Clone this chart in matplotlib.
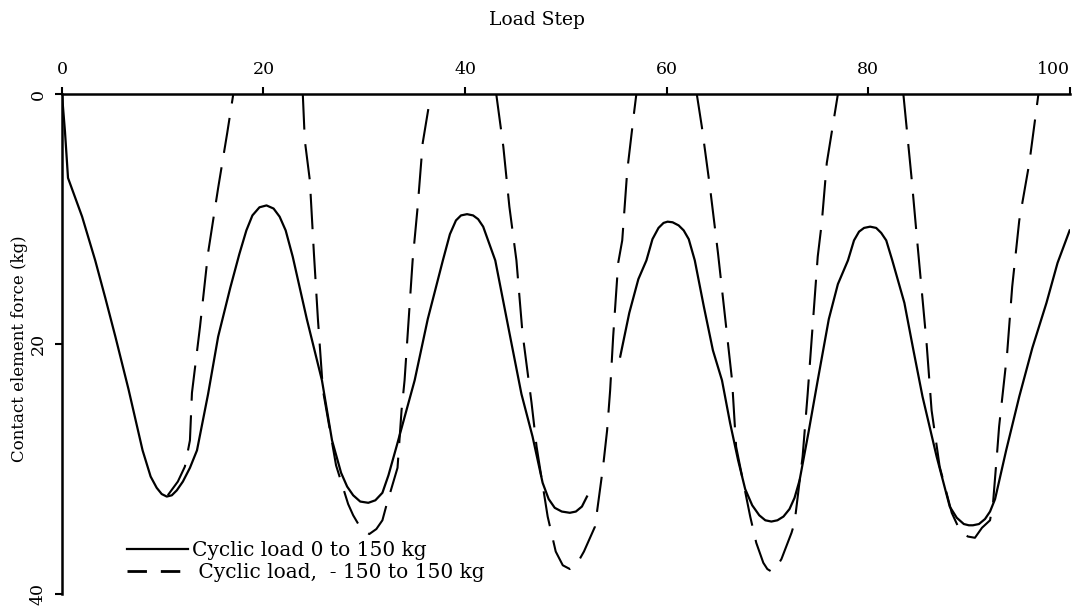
import matplotlib.pyplot as plt
from matplotlib.lines import Line2D

# solid curve: cyclic load 0 to 150 kg (two pieces, gap near step 53-55)
solid_x1 = [0, 0.3, 0.6, 2.0, 3.3, 4.3, 5.3, 6.6, 8.0, 8.8, 9.4, 9.9, 10.4, 10.9, 11.4, 12.0,
            12.7, 13.4, 14.5, 15.5, 16.7, 17.6, 18.3, 18.9, 19.6, 20.3, 21.0, 21.6, 22.2, 22.9,
            24.3, 25.8, 26.8, 27.7, 28.3, 28.9, 29.6, 30.4, 31.1, 31.8, 32.4, 33.2, 35.0, 36.3,
            37.8, 38.5, 39.1, 39.6, 40.2, 40.8, 41.3, 41.8, 43.0, 44.6, 45.6, 46.7, 47.7, 48.3,
            48.9, 49.6, 50.4, 51.0, 51.6, 52.1]
solid_y1 = [0, 3.0, 6.7, 9.8, 13.3, 16.3, 19.4, 23.6, 28.5, 30.6, 31.5, 32.0, 32.2, 32.1, 31.7, 31.0,
            29.9, 28.5, 24.0, 19.4, 15.5, 12.8, 10.9, 9.7, 9.05, 8.9, 9.15, 9.8, 10.9, 13.0,
            18.0, 22.9, 27.7, 30.3, 31.4, 32.1, 32.6, 32.7, 32.5, 31.9, 30.5, 28.2, 22.9, 18.0,
            13.3, 11.2, 10.1, 9.7, 9.6, 9.7, 10.0, 10.6, 13.3, 19.9, 24.0, 27.4, 31.1, 32.4,
            33.1, 33.4, 33.5, 33.4, 33.0, 32.2]
solid_x2 = [55.4, 56.3, 57.2, 58.0, 58.6, 59.2, 59.7, 60.1, 60.6, 61.2, 61.7, 62.2, 62.8, 63.7,
            64.6, 65.5, 66.3, 67.1, 67.8, 68.5, 69.2, 69.8, 70.4, 71.0, 71.6, 72.2, 72.7, 73.2,
            74.1, 75.0, 76.1, 77.0, 78.0, 78.6, 79.1, 79.6, 80.2, 80.8, 81.3, 81.8, 82.4, 83.6,
            84.5, 85.4, 86.8, 88.1, 88.8, 89.5, 90.0, 90.4, 91.0, 91.6, 92.1, 92.6, 93.7, 95.0,
            96.3, 97.7, 98.8, 100]
solid_y2 = [21.0, 17.5, 14.8, 13.3, 11.6, 10.7, 10.3, 10.2, 10.25, 10.5, 10.9, 11.6, 13.3, 17.0,
            20.5, 22.9, 26.3, 29.3, 31.6, 32.9, 33.7, 34.1, 34.2, 34.1, 33.8, 33.2, 32.3, 30.9,
            27.0, 22.9, 18.0, 15.2, 13.3, 11.7, 11.0, 10.7, 10.6, 10.7, 11.1, 11.7, 13.3, 16.7,
            20.5, 24.2, 29.0, 33.0, 33.9, 34.4, 34.5, 34.5, 34.4, 34.0, 33.4, 32.4, 28.5, 24.2,
            20.3, 16.7, 13.5, 10.9]

# dashed curve: cyclic load -150 to 150 kg, one piece per loading cycle
dash_x = [
    [10.5, 11.5, 12.2, 12.7, 12.9, 13.7, 14.5, 15.5, 16.4, 17.0],
    [23.9, 24.1, 24.6, 25.0, 25.4, 25.9, 27.2, 28.4, 28.9, 29.7, 30.5, 31.2, 31.8, 32.2, 33.3,
     33.7, 34.0, 34.8, 35.3, 35.8, 36.6],
    [43.1, 43.8, 44.4, 45.1, 45.7, 46.6, 47.1, 48.2, 49.0, 49.7, 50.4, 51.1, 51.8, 52.9, 53.7,
     54.1, 54.4, 54.7, 55.2, 55.6, 56.1, 56.8, 57.0],
    [63.0, 63.5, 64.3, 65.1, 65.8, 66.5, 66.9, 68.3, 68.9, 69.6, 70.0, 70.4, 70.8, 71.4, 72.4,
     72.7, 73.5, 74.0, 75.0, 75.4, 75.9, 76.5, 77.0],
    [83.5, 84.3, 84.9, 85.8, 86.3, 87.1, 88.3, 89.1, 89.9, 90.6, 91.3, 92.1, 92.4, 92.8, 93.0,
     93.8, 94.3, 95.0, 96.0, 96.9],
]
dash_y = [
    [32.1, 31.0, 29.8, 27.7, 23.9, 18.6, 12.7, 7.5, 3.1, 0],
    [0, 3.7, 6.9, 12.7, 18.0, 23.7, 29.7, 32.8, 33.7, 34.8, 35.2, 34.8, 34.1, 32.9, 29.9,
     25.3, 22.9, 13.3, 9.0, 3.9, 0],
    [0, 4.2, 9.0, 13.3, 19.1, 24.7, 28.2, 33.8, 36.6, 37.7, 38.0, 37.6, 36.6, 34.6, 29.8,
     26.9, 23.7, 19.4, 13.5, 11.7, 6.1, 1.3, 0],
    [0, 2.6, 7.4, 12.7, 17.8, 22.9, 28.2, 33.8, 35.9, 37.5, 38.0, 38.2, 38.0, 37.2, 35.1,
     34.3, 29.0, 24.0, 13.0, 10.3, 5.5, 2.5, 0],
    [0, 6.6, 12.0, 19.9, 25.3, 29.8, 33.5, 34.9, 35.4, 35.5, 34.7, 34.1, 32.7, 28.7, 26.6,
     20.7, 15.4, 10.1, 5.5, 0],
]

x_ticks = [0, 20, 40, 60, 80, 100]
y_ticks = [0, 20, 40]
labels = ['Cyclic load 0 to 150 kg', ' Cyclic load,  - 150 to 150 kg']

plt.rcParams['font.family'] = 'DejaVu Serif'

fig = plt.figure(figsize=(10.72, 6.11), dpi=100)
ax = fig.add_axes([0.0578, 0.0278, 0.940, 0.818])

ax.plot(solid_x1, solid_y1, color='black', lw=1.6)
ax.plot(solid_x2, solid_y2, color='black', lw=1.6)
for xs, ys in zip(dash_x, dash_y):
    ax.plot(xs, ys, color='black', lw=1.5, dashes=(17, 7))

ax.set_xlim(0, 100)
ax.set_ylim(40, 0)
ax.xaxis.tick_top()
ax.set_xticks(x_ticks)
ax.set_yticks(y_ticks)
ax.tick_params(axis='x', direction='out', length=5, width=1.5, pad=7, labelsize=12.5)
ax.tick_params(axis='y', direction='out', length=5, width=1.5, pad=6, labelsize=12.5)
for lab in ax.get_yticklabels():
    lab.set_rotation(90)
    lab.set_va('center')
ax.get_xticklabels()[-1].set_ha('right')

for side in ['right', 'bottom']:
    ax.spines[side].set_visible(False)
for side in ['top', 'left']:
    ax.spines[side].set_linewidth(1.8)

ax.set_ylabel('Contact element force (kg)', fontsize=12)
ax.yaxis.set_label_coords(-0.034, 0.49)
fig.text(537 / 1072, 1 - 20 / 611, 'Load Step', fontsize=13.5, ha='center', va='center')

handles = [Line2D([], [], color='black', lw=1.6),
           Line2D([], [], color='black', lw=2, dashes=(7, 5))]
ax.legend(handles, labels, loc='lower left', bbox_to_anchor=(0.055, 0.004), frameon=False,
          fontsize=14.5, handlelength=3.0, handletextpad=0.2, labelspacing=0.15, borderpad=0)

fig.savefig('out.png', dpi=100)
